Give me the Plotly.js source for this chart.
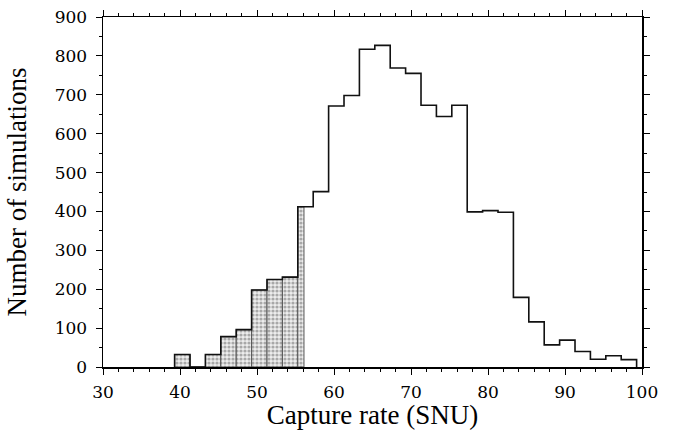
<!DOCTYPE html>
<html>
<head>
<meta charset="utf-8">
<script src="https://cdn.plot.ly/plotly-3.0.1.min.js"></script>
<style>html,body{margin:0;padding:0;background:#fff;}#chart{width:678px;height:430px;}</style>
</head>
<body>
<div id="chart"></div>
<script>
// Histogram bins (width 2 SNU) starting at 39.3
const binStart = 39.3;
const binWidth = 2;
const counts = [32, 0, 32, 78, 96, 198, 225, 231, 412, 451,
                671, 698, 817, 827, 769, 755, 673, 644, 673, 399,
                402, 398, 179, 116, 57, 69, 40, 20, 29, 19];
// Shaded (lower) portion of the distribution ends at this capture rate
const shadeCutoff = 56.1;
const xTickVals = [30, 40, 50, 60, 70, 80, 90, 100];
const yTickVals = [0, 100, 200, 300, 400, 500, 600, 700, 800, 900];

// Step outline
const edges = counts.map((c, i) => binStart + i * binWidth);
const stepX = [binStart].concat(edges, [binStart + counts.length * binWidth]);
const stepY = [0].concat(counts, [0]);

// Shaded bars
const shX = [], shW = [], shY = [];
counts.forEach((c, i) => {
  const lo = edges[i], hi = lo + binWidth;
  if (lo >= shadeCutoff) return;
  const h = Math.min(hi, shadeCutoff);
  shX.push((lo + h) / 2); shW.push(h - lo); shY.push(c);
});

const traces = [
  {type: 'bar', x: shX, y: shY, width: shW,
   marker: {color: '#e2e2e2',
            pattern: {shape: '.', fgcolor: '#a8a8a8', bgcolor: '#eeeeee', size: 4, solidity: 0.5},
            line: {color: '#555', width: 1}},
   hoverinfo: 'skip', showlegend: false},
  {type: 'scatter', mode: 'lines', x: stepX, y: stepY,
   line: {shape: 'hv', color: '#111', width: 1.6},
   hoverinfo: 'skip', showlegend: false}
];

const SERIF = 'Liberation Serif';
const TICKSERIF = 'DejaVu Serif';
const layout = {
  width: 678, height: 430,
  margin: {l: 103, r: 36, t: 17, b: 63},
  paper_bgcolor: '#fff', plot_bgcolor: '#fff',
  bargap: 0,
  font: {family: SERIF, size: 17, color: '#000'},
  xaxis: {
    range: [30, 100], tickmode: 'array', tickvals: xTickVals,
    ticks: 'outside', ticklen: 6, tickwidth: 1, tickcolor: '#000', ticklabelstandoff: 3,
    minor: {dtick: 2, ticks: 'outside', ticklen: 3, tickcolor: '#000', showgrid: false},
    showline: true, linecolor: '#000', linewidth: 1.5, mirror: 'allticks',
    showgrid: false, zeroline: false,
    tickfont: {family: TICKSERIF, size: 17, color: '#000'},
    title: {text: 'Capture rate (SNU)', font: {family: SERIF, size: 27, color: '#000'}, standoff: 6}
  },
  yaxis: {
    range: [0, 900], tickmode: 'array', tickvals: yTickVals,
    ticks: 'outside', ticklen: 6, tickwidth: 1, tickcolor: '#000', ticklabelstandoff: 5,
    minor: {dtick: 50, ticks: 'outside', ticklen: 3, tickcolor: '#000', showgrid: false},
    showline: true, linecolor: '#000', linewidth: 1.5, mirror: 'allticks',
    showgrid: false, zeroline: false,
    tickfont: {family: TICKSERIF, size: 17, color: '#000'},
    title: {text: 'Number of simulations', font: {family: SERIF, size: 27, color: '#000'}, standoff: 20}
  }
};

Plotly.newPlot('chart', traces, layout, {displayModeBar: false, staticPlot: true});
</script>
</body>
</html>
